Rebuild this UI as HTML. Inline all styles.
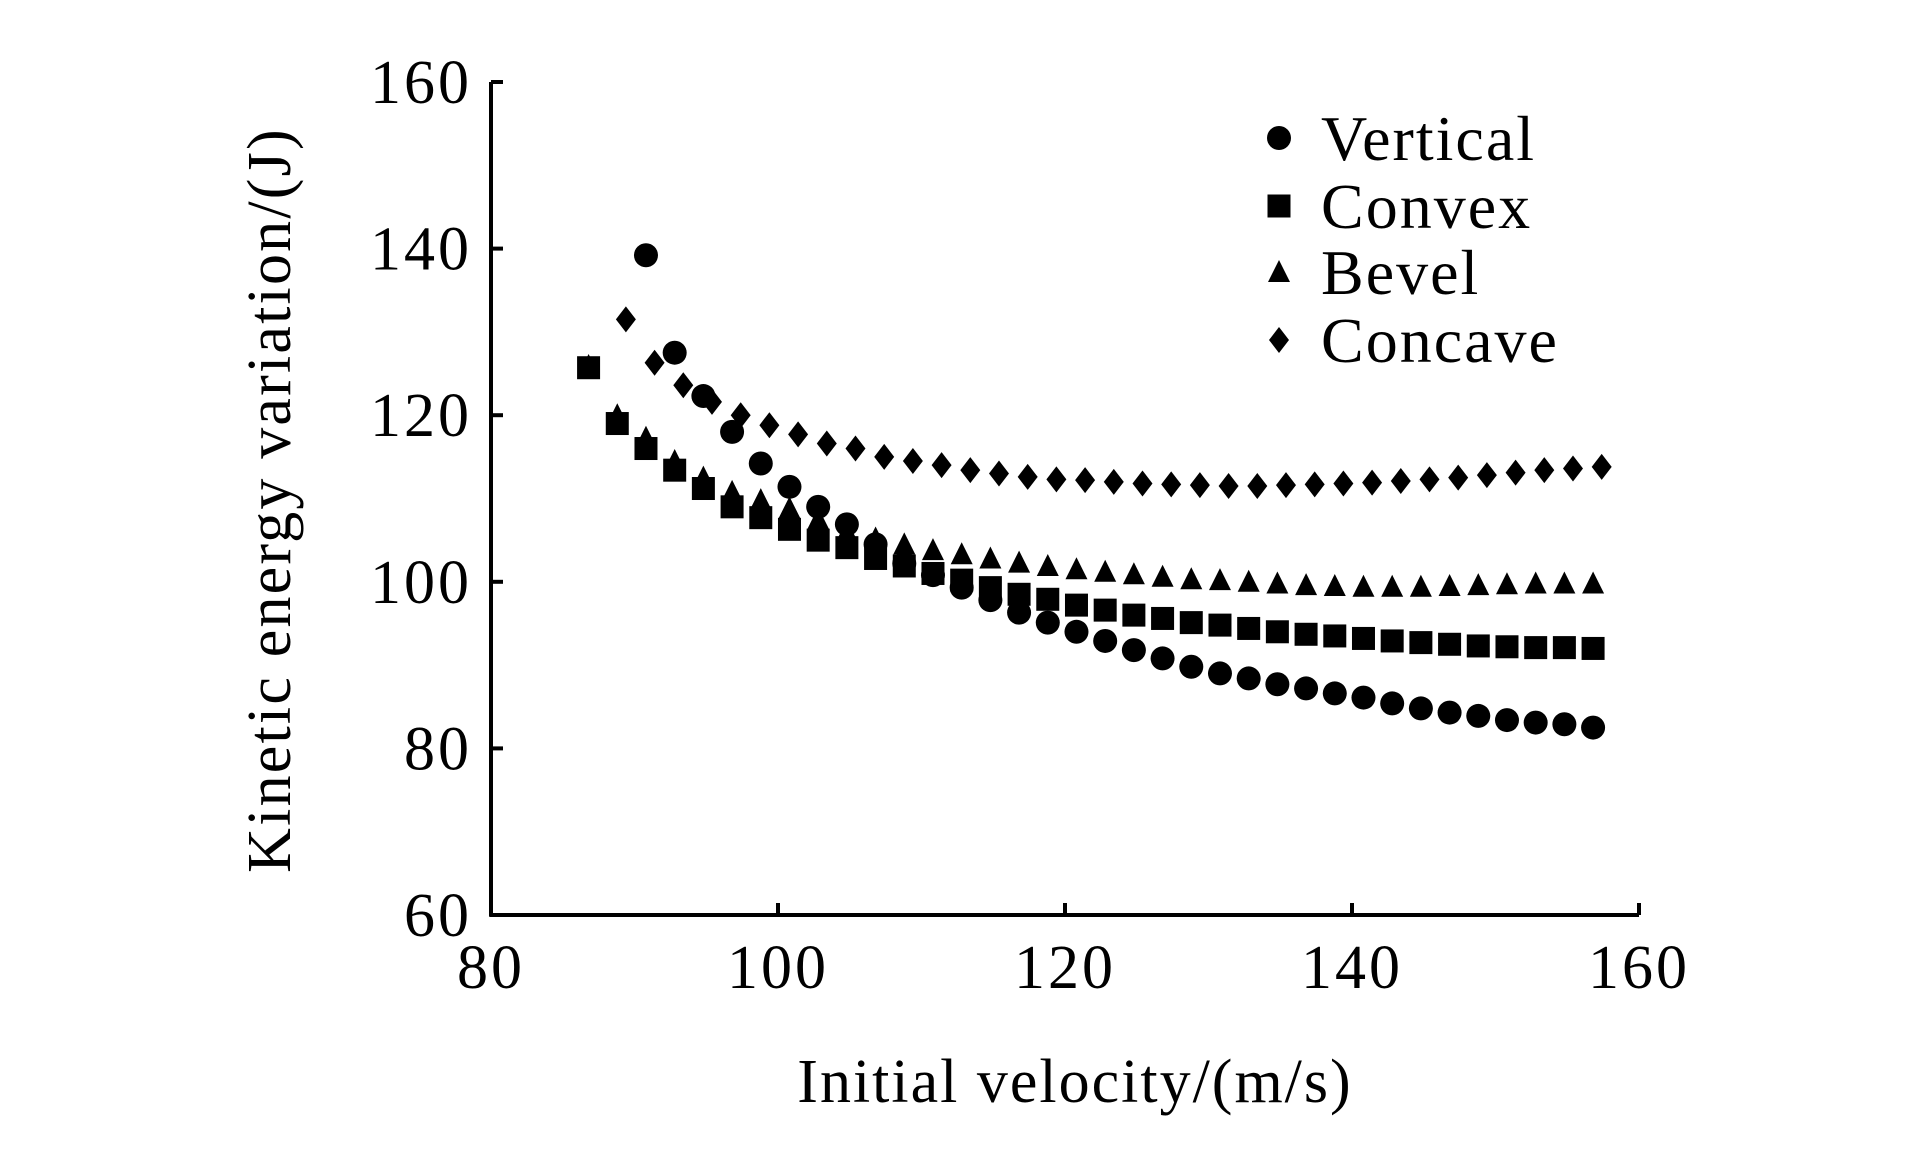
<!DOCTYPE html>
<html><head><meta charset="utf-8"><style>
html,body{margin:0;padding:0;background:#fff;}
svg text{font-family:"Liberation Serif",serif;fill:#000;}
</style></head><body>
<svg id="chart" width="1923" height="1169" viewBox="0 0 1923 1169" xmlns="http://www.w3.org/2000/svg">
<g id="axes"></g>
<g id="marks"></g>
<text x="0" y="0" font-size="62" letter-spacing="2.2" text-anchor="middle" transform="translate(290,500) rotate(-90)">Kinetic energy variation/(J)</text>
<text x="1075" y="1102" font-size="62" letter-spacing="2" text-anchor="middle">Initial velocity/(m/s)</text>
<g id="legend"></g>
</svg>
<script>
const xTicks=[80,100,120,140,160];
const yTicks=[60,80,100,120,140,160];
const seriesNames=["Vertical","Convex","Bevel","Concave"];
const verticalStart=90.8;
const verticalVals=[139.2,127.5,122.3,118,114.2,111.4,109,106.9,104.5,102.2,100.8,99.3,97.8,96.3,95.1,94,92.9,91.8,90.8,89.8,89,88.4,87.7,87.2,86.6,86.1,85.4,84.8,84.3,83.9,83.4,83.1,82.9,82.5];
const convexStart=86.8;
const convexVals=[125.7,119,116,113.4,111.2,109,107.7,106.3,105,104.1,102.8,101.9,101,100.2,99.3,98.5,97.9,97.2,96.6,96,95.6,95.1,94.8,94.4,94,93.7,93.5,93.2,92.9,92.7,92.5,92.3,92.2,92.1,92.1,92];
const bevelStart=86.8;
const bevelVals=[125.9,120,117.3,114.5,112.5,110.8,109.8,108.8,107.5,106,105.2,104.5,103.8,103.3,102.8,102.3,101.9,101.5,101.2,100.9,100.6,100.3,100.2,100,99.8,99.6,99.5,99.4,99.4,99.4,99.5,99.6,99.7,99.8,99.8,99.8];
const concaveStart=89.4;
const concaveVals=[131.5,126.3,123.6,121.6,120,118.8,117.7,116.6,116,115,114.5,114,113.4,113,112.6,112.3,112.2,112,111.8,111.7,111.6,111.5,111.5,111.6,111.7,111.8,111.9,112.1,112.3,112.5,112.8,113.1,113.4,113.6,113.8];
const step=2;

const X0=491,X1=1639,Y0=915,Y1=82;
const xs=v=>X0+(v-80)/(160-80)*(X1-X0);
const ys=v=>Y0-(v-60)/(160-60)*(Y0-Y1);
const NS="http://www.w3.org/2000/svg";
function mk(tag,attrs,parent){const e=document.createElementNS(NS,tag);for(const k in attrs)e.setAttribute(k,attrs[k]);parent.appendChild(e);return e;}
const axes=document.getElementById('axes');
let l=mk('line',{x1:X0,y1:Y1,x2:X0,y2:Y0+1.5,stroke:'#000','stroke-width':4},axes);


l=mk('line',{x1:X0-1.5,y1:Y0,x2:X1,y2:Y0,stroke:'#000','stroke-width':4},axes);


xTicks.forEach(t=>{
 const tk=mk('line',{x1:xs(t),y1:Y0,x2:xs(t),y2:Y0-12,stroke:'#000','stroke-width':4},axes);
 
 
 const tx=mk('text',{x:xs(t),y:988,'font-size':62,'letter-spacing':3,'text-anchor':'middle'},axes);tx.textContent=t;
 
 
});
yTicks.forEach(t=>{
 const tk=mk('line',{x1:X0,y1:ys(t),x2:X0+12,y2:ys(t),stroke:'#000','stroke-width':4},axes);
 
 
 const tx=mk('text',{x:472,y:ys(t)+21,'font-size':62,'letter-spacing':3,'text-anchor':'end'},axes);tx.textContent=t;
 
 
});
function marker(kind,cx,cy,parent){
 if(kind===0)return mk('circle',{cx:cx,cy:cy,r:12},parent);
 if(kind===1)return mk('rect',{x:cx-11.5,y:cy-11.5,width:23,height:23},parent);
 if(kind===2)return mk('polygon',{points:`${cx},${cy-12} ${cx+11},${cy+10} ${cx-11},${cy+10}`},parent);
 return mk('polygon',{points:`${cx},${cy-13} ${cx+10},${cy} ${cx},${cy+13} ${cx-10},${cy}`},parent);
}
const marks=document.getElementById('marks');
const all=[[verticalStart,verticalVals],[convexStart,convexVals],[bevelStart,bevelVals],[concaveStart,concaveVals]];
all.forEach((s,k)=>{
 s[1].forEach((v,i)=>{
  const m=marker(k,xs(s[0]+i*step),ys(v),marks);
  
  
 });
});
const leg=document.getElementById('legend');
const legY=[138,206,272,340];
seriesNames.forEach((n,k)=>{
 const m=marker(k,1279,legY[k],leg);
 
 
 const t=mk('text',{x:1321,y:legY[k]+22,'font-size':64,'letter-spacing':2},leg);t.textContent=n;
 
 
});
</script>
</body></html>
